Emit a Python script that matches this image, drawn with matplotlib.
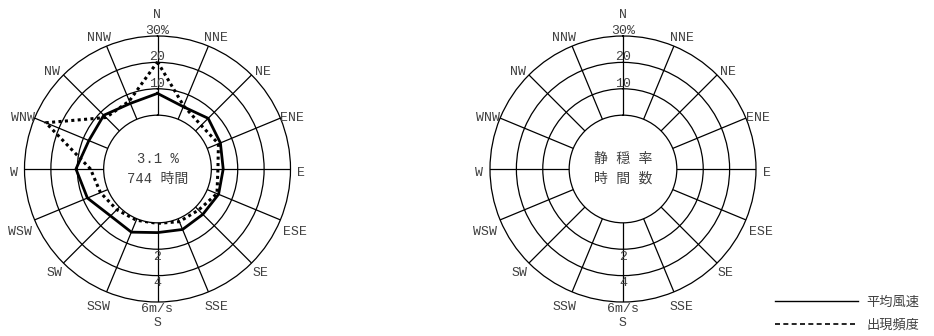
import matplotlib
matplotlib.use('Agg')
import matplotlib.pyplot as plt
from matplotlib.lines import Line2D
import numpy as np

# 半角等幅の明朝に近い幅を取るため等幅フォントを使う
plt.rcParams['font.family'] = ['Liberation Mono', 'Noto Sans CJK JP']

# 16方位
directions = ['N', 'NNE', 'NE', 'ENE', 'E', 'ESE', 'SE', 'SSE',
              'S', 'SSW', 'SW', 'WSW', 'W', 'WNW', 'NW', 'NNW']
# 出現頻度 (%)
freq = [20.2, 5.5, 3.0, 4.6, 2.5, 4.0, 1.6, 1.2,
        0.2, 0.6, 1.4, 3.0, 5.0, 25.4, 7.2, 7.5]
# 平均風速 (m/s)
speed = [1.65, 1.03, 1.35, 1.08, 0.9, 0.93, 0.78, 0.88,
         0.74, 1.1, 0.95, 1.67, 2.1, 1.55, 1.68, 1.3]
calm_text = ['3.1 %', '744 時間']
blank_text = ['静 穏 率', '時 間 数']
freq_ticks = [10, 20, 30]
freq_labels = ['10', '20', '30%']
speed_ticks = [2, 4, 6]
speed_labels = ['2', '4', '6m/s']
legend_labels = ['平均風速', '出現頻度']

FREQ_MAX = 30
SPEED_MAX = 6
HOLE = 0.68          # 静穏円の半径 (目盛1本分=1/3 に対する比)
R_PX = 133           # 外円の半径 (px)
TXT = '#404040'
FS = 9.5

# 方位ラベルの位置ずれ (px): 北から東回り 0..8 の分、西側は左右反転
label_dx = [0, -4, 3, 0, 7, 3, 1, -4, 0]
label_dy = [-21, -8, -3, 0, 4, 12, 10, 15, 21]

theta = np.deg2rad(np.arange(16) * 22.5)
fig = plt.figure(figsize=(9.34, 3.36), dpi=100)


def setup(ax, rmax):
    ax.set_theta_zero_location('N')
    ax.set_theta_direction(-1)
    ax.set_ylim(0, rmax)
    ax.set_rorigin(-rmax * HOLE)


def rose(cx, center_text, data=False):
    w = 2 * R_PX / 934
    h = 2 * R_PX / 336
    rect = [cx / 934 - w / 2, (336 - 169) / 336 - h / 2, w, h]
    ax = fig.add_axes(rect, projection='polar')
    setup(ax, FREQ_MAX)
    ax.set_xticks(theta)
    ax.set_xticklabels([])
    ax.set_yticks(freq_ticks[:-1])
    ax.set_yticklabels([])
    ax.grid(True, color='black', lw=0.9)
    ax.tick_params(length=0)
    for sp in ax.spines.values():
        sp.set_color('black')
        sp.set_linewidth(0.9)

    # 方位ラベル (外円上の放射線の先端から)
    for i, (th, name) in enumerate(zip(theta, directions)):
        k = i if i <= 8 else 16 - i
        if i in (0, 8):
            ha, sgn = 'center', 0
        elif i < 8:
            ha, sgn = 'left', 1
        else:
            ha, sgn = 'right', -1
        dx = sgn * label_dx[k]
        ax.annotate(name, (th, FREQ_MAX), xytext=(dx, -label_dy[k]),
                    textcoords='offset pixels', ha=ha, va='center',
                    fontsize=FS, color=TXT, annotation_clip=False)

    # 頻度目盛
    for v, lab in zip(freq_ticks, freq_labels):
        ax.text(0, v - 0.4, lab, ha='center', va='bottom', fontsize=FS,
                color=TXT)

    # 風速用の軸
    ax2 = fig.add_axes(rect, projection='polar')
    setup(ax2, SPEED_MAX)
    ax2.axis('off')
    ax2.patch.set_alpha(0)
    for v, lab in zip(speed_ticks, speed_labels):
        ax2.text(np.pi, v + 0.1, lab, ha='center', va='top', fontsize=FS,
                 color=TXT)

    if data:
        th_c = np.append(theta, theta[0])
        ax2.plot(th_c, np.append(speed, speed[0]), color='black', lw=2)
        ax.plot(th_c, np.append(freq, freq[0]), color='black', lw=2.2,
                ls=(0, (1, 1.1)))

    fig.text(cx / 934, (336 - 159) / 336, center_text[0],
             ha='center', va='center', fontsize=10, color=TXT)
    fig.text(cx / 934, (336 - 179) / 336, center_text[1],
             ha='center', va='center', fontsize=10, color=TXT)


rose(157.5, calm_text, data=True)
rose(623, blank_text)

handles = [Line2D([], [], color='black', lw=1),
           Line2D([], [], color='black', lw=1.2, ls=(0, (3, 2)))]
fig.legend(handles, legend_labels, loc='lower left',
           bbox_to_anchor=(775 / 934, 0.012), frameon=False, fontsize=9.5,
           handlelength=6.3, handletextpad=0.6, labelspacing=0.8,
           borderpad=0, borderaxespad=0, labelcolor=TXT)

fig.savefig('out.png', dpi=100)
